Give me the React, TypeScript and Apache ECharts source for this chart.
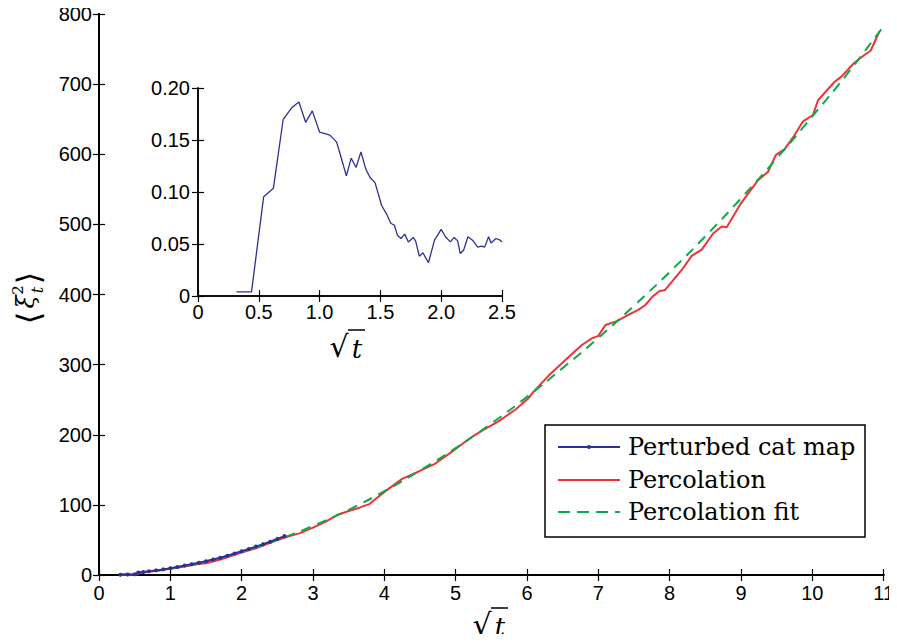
import React, { useEffect, useRef } from "react";
import * as echarts from "echarts";

// Main plot: Percolation curve (sqrt t, <xi^2>)
const percolation: [number, number][] = [
  [0.3, 0], [0.45, 0.5], [0.55, 1.2], [0.57, 3.2], [0.7, 4.5], [0.85, 6.5], [1.0, 9], [1.2, 12],
  [1.4, 15.5], [1.5, 16.6], [1.7, 22], [1.85, 27], [2.0, 32], [2.2, 38], [2.4, 46], [2.5, 50],
  [2.72, 57], [2.81, 59.4], [3.0, 67.5], [3.18, 76], [3.35, 86], [3.49, 91], [3.65, 96], [3.79, 101],
  [3.86, 107], [4.02, 120], [4.25, 137], [4.49, 148], [4.7, 158], [4.95, 176], [5.12, 189], [5.23, 197],
  [5.39, 207], [5.6, 219], [5.84, 236], [6.02, 252], [6.09, 261], [6.3, 284], [6.49, 302], [6.63, 315],
  [6.77, 328], [6.91, 337.5], [7.0, 341], [7.1, 356.5], [7.26, 362], [7.42, 371], [7.56, 378], [7.66, 385],
  [7.76, 397], [7.86, 405], [7.93, 406], [8.03, 418], [8.17, 435], [8.31, 455], [8.45, 464], [8.61, 487],
  [8.73, 497], [8.8, 496], [9.0, 530], [9.24, 563], [9.38, 575], [9.49, 599], [9.61, 607], [9.75, 627],
  [9.87, 647], [10.01, 656], [10.08, 677], [10.31, 703], [10.4, 710], [10.59, 730.5], [10.73, 741.5],
  [10.82, 748], [10.94, 775],
];

// Percolation fit
const percolationFit: [number, number][] = [
  [0.3, 1], [0.6, 3.5], [1, 9.2], [1.5, 19.5], [2, 33], [2.5, 50], [3, 70], [3.5, 93], [4, 119.5],
  [4.5, 149], [5, 181], [5.5, 216], [6, 254], [6.5, 295], [7, 338], [7.5, 384], [8, 432], [8.5, 483],
  [9, 537], [9.5, 594], [10, 654], [10.5, 716], [10.98, 780],
];

// Perturbed cat map
const catMap: [number, number][] = [
  [0.3, 0.5], [0.4, 0.8], [0.5, 1.2], [0.55, 3.5], [0.62, 4.2], [0.7, 5.2], [0.8, 6.6], [0.9, 8],
  [1.0, 9.8], [1.1, 11.5], [1.2, 13.4], [1.3, 15.5], [1.4, 17.5], [1.5, 19.5], [1.6, 22], [1.7, 24.5],
  [1.8, 27.5], [1.9, 30.8], [2.0, 34], [2.1, 37.2], [2.2, 40.5], [2.3, 44], [2.4, 47.5], [2.5, 51.5],
  [2.6, 55.5],
];

// Inset: relative difference
const insetData: [number, number][] = [
  [0.316, 0.0039], [0.44, 0.0039], [0.54, 0.0955], [0.62, 0.1035], [0.7, 0.1695], [0.77, 0.181],
  [0.83, 0.1865], [0.885, 0.167], [0.94, 0.178], [1.0, 0.1575], [1.085, 0.1547], [1.14, 0.148],
  [1.18, 0.132], [1.22, 0.1155], [1.26, 0.1325], [1.3, 0.1235], [1.34, 0.1386], [1.38, 0.122],
  [1.415, 0.114], [1.456, 0.109], [1.51, 0.087], [1.55, 0.079], [1.585, 0.07], [1.615, 0.068],
  [1.64, 0.0585], [1.67, 0.0553], [1.7, 0.0595], [1.73, 0.052], [1.77, 0.0563], [1.79, 0.0527],
  [1.82, 0.0383], [1.85, 0.0415], [1.895, 0.032], [1.945, 0.0537], [2.0, 0.064], [2.035, 0.057],
  [2.075, 0.052], [2.107, 0.0563], [2.135, 0.053], [2.157, 0.0408], [2.184, 0.044], [2.22, 0.057],
  [2.258, 0.0537], [2.3, 0.047], [2.33, 0.048], [2.357, 0.047], [2.39, 0.057], [2.41, 0.051],
  [2.45, 0.0553], [2.48, 0.054], [2.5, 0.052],
];

const legendNames = ["Perturbed cat map", "Percolation", "Percolation fit"];

const BLUE = "#2e3192";
const RED = "#f03237";
const GREEN = "#0fa84a";
const SANS = "Liberation Sans, Arial, sans-serif";
const SERIF = "DejaVu Serif, serif";

export default function App() {
  const ref = useRef<HTMLDivElement>(null);
  useEffect(() => {
    if (!ref.current) return;
    const chart = echarts.init(ref.current, undefined, { renderer: "svg" });
    const labelStyle = { color: "#000", fontSize: 20, fontFamily: SANS };
    const mainAxisLine = { show: true, lineStyle: { color: "#000", width: 2 } };
    const insetAxisLine = { show: true, lineStyle: { color: "#000", width: 1.5 } };
    const tick = { show: true, inside: true, length: 6, lineStyle: { color: "#000", width: 1.2 } };
    const fmtInsetX = (v: number) => (v === 0 ? "0" : v.toFixed(1));
    const fmtInsetY = (v: number) => (v === 0 ? "0" : v.toFixed(2));

    const lgX = 545, lgY = 425, lgW = 320, lgH = 112;
    const rowY = [447, 480, 512];
    const lineX1 = 558, lineX2 = 620, textX = 628;
    const legendFont = "24px " + SERIF;

    chart.setOption({
      animation: false,
      backgroundColor: "#fff",
      grid: [
        { left: 99, right: 11, top: 14, bottom: 67 },
        { left: 198, width: 304, top: 88, height: 208, backgroundColor: "#fff", show: true, borderWidth: 0 },
      ],
      xAxis: [
        { type: "value", gridIndex: 0, min: 0, max: 11, interval: 1, position: "bottom",
          axisLine: mainAxisLine, axisTick: tick, splitLine: { show: false },
          axisLabel: { ...labelStyle, margin: 8, showMaxLabel: true } },
        { type: "value", gridIndex: 0, min: 0, max: 11, interval: 1, position: "top",
          axisLine: mainAxisLine, axisTick: tick, splitLine: { show: false }, axisLabel: { show: false } },
        { type: "value", gridIndex: 1, min: 0, max: 2.5, interval: 0.5, position: "bottom",
          axisLine: insetAxisLine, axisTick: tick, splitLine: { show: false },
          axisLabel: { ...labelStyle, margin: 6, formatter: fmtInsetX } },
        { type: "value", gridIndex: 1, min: 0, max: 2.5, interval: 0.5, position: "top",
          axisLine: insetAxisLine, axisTick: tick, splitLine: { show: false }, axisLabel: { show: false } },
      ],
      yAxis: [
        { type: "value", gridIndex: 0, min: 0, max: 800, interval: 100, position: "left",
          axisLine: mainAxisLine, axisTick: tick, splitLine: { show: false },
          axisLabel: { ...labelStyle, margin: 7 } },
        { type: "value", gridIndex: 0, min: 0, max: 800, interval: 100, position: "right",
          axisLine: mainAxisLine, axisTick: tick, splitLine: { show: false }, axisLabel: { show: false } },
        { type: "value", gridIndex: 1, min: 0, max: 0.2, interval: 0.05, position: "left",
          axisLine: insetAxisLine, axisTick: tick, splitLine: { show: false },
          axisLabel: { ...labelStyle, margin: 8, formatter: fmtInsetY } },
        { type: "value", gridIndex: 1, min: 0, max: 0.2, interval: 0.05, position: "right",
          axisLine: insetAxisLine, axisTick: tick, splitLine: { show: false }, axisLabel: { show: false } },
      ],
      series: [
        {
          name: legendNames[1], type: "line", xAxisIndex: 0, yAxisIndex: 0, data: percolation,
          symbol: "none", lineStyle: { color: RED, width: 2 }, itemStyle: { color: RED }, z: 3,
        },
        {
          name: legendNames[2], type: "line", xAxisIndex: 0, yAxisIndex: 0, data: percolationFit,
          smooth: true, symbol: "none", lineStyle: { color: GREEN, width: 2, type: [10, 7] },
          itemStyle: { color: GREEN }, z: 4,
        },
        {
          name: legendNames[0], type: "line", xAxisIndex: 0, yAxisIndex: 0, data: catMap,
          symbol: "circle", symbolSize: 4, lineStyle: { color: BLUE, width: 2 },
          itemStyle: { color: BLUE }, z: 5,
        },
        {
          name: "inset", type: "line", xAxisIndex: 2, yAxisIndex: 2, data: insetData,
          symbol: "none", lineStyle: { color: BLUE, width: 1.3 }, itemStyle: { color: BLUE }, z: 5,
        },
      ],
      graphic: [
        // Legend
        { type: "rect", shape: { x: lgX, y: lgY, width: lgW, height: lgH }, style: { fill: "#fff", stroke: "#000", lineWidth: 1.5 }, z: 100 },
        { type: "line", shape: { x1: lineX1, y1: rowY[0], x2: lineX2, y2: rowY[0] }, style: { stroke: BLUE, lineWidth: 2 }, z: 101 },
        { type: "circle", shape: { cx: (lineX1 + lineX2) / 2, cy: rowY[0], r: 2 }, style: { fill: BLUE }, z: 101 },
        { type: "line", shape: { x1: lineX1, y1: rowY[1], x2: lineX2, y2: rowY[1] }, style: { stroke: RED, lineWidth: 2 }, z: 101 },
        { type: "line", shape: { x1: lineX1, y1: rowY[2], x2: lineX2, y2: rowY[2] }, style: { stroke: GREEN, lineWidth: 2, lineDash: [12, 7] }, z: 101 },
        ...legendNames.map((n, i) => ({
          type: "text", x: textX, y: rowY[i], z: 101,
          style: { text: n, font: legendFont, fill: "#000", textAlign: "left", textVerticalAlign: "middle" },
        })),
        // Y axis title <xi_t^2>
        {
          type: "group", x: 29, y: 299, rotation: Math.PI / 2,
          children: [
            { type: "text", x: -19, y: 0, style: { text: "⟨", font: "32px " + SERIF, fill: "#000", textAlign: "center", textVerticalAlign: "middle" } },
            { type: "text", x: -3, y: -3, style: { text: "ξ", font: "italic 24px " + SERIF, fill: "#000", textAlign: "center", textVerticalAlign: "middle" } },
            { type: "text", x: 9, y: -11, style: { text: "2", font: "15px " + SERIF, fill: "#000", textAlign: "center", textVerticalAlign: "middle" } },
            { type: "text", x: 9, y: 8, style: { text: "t", font: "italic 16px " + SERIF, fill: "#000", textAlign: "center", textVerticalAlign: "middle" } },
            { type: "text", x: 21, y: 0, style: { text: "⟩", font: "32px " + SERIF, fill: "#000", textAlign: "center", textVerticalAlign: "middle" } },
          ],
        },
        // main x title sqrt(t)
        {
          type: "group", x: 490, y: 624,
          children: [
            { type: "text", x: -8, y: 0, style: { text: "√", font: "30px " + SERIF, fill: "#000", textAlign: "center", textVerticalAlign: "middle" } },
            { type: "text", x: 10, y: 3, style: { text: "t", font: "italic 26px " + SERIF, fill: "#000", textAlign: "center", textVerticalAlign: "middle" } },
            { type: "line", shape: { x1: 1, y1: -16, x2: 18, y2: -16 }, style: { stroke: "#000", lineWidth: 1.5 } },
          ],
        },
        // inset x title sqrt(t)
        {
          type: "group", x: 347, y: 346,
          children: [
            { type: "text", x: -8, y: 0, style: { text: "√", font: "30px " + SERIF, fill: "#000", textAlign: "center", textVerticalAlign: "middle" } },
            { type: "text", x: 10, y: 3, style: { text: "t", font: "italic 26px " + SERIF, fill: "#000", textAlign: "center", textVerticalAlign: "middle" } },
            { type: "line", shape: { x1: 1, y1: -16, x2: 18, y2: -16 }, style: { stroke: "#000", lineWidth: 1.5 } },
          ],
        },
      ],
    });
    return () => chart.dispose();
  }, []);
  return <div ref={ref} style={{ width: 897, height: 642, margin: -8 }} />;
}
